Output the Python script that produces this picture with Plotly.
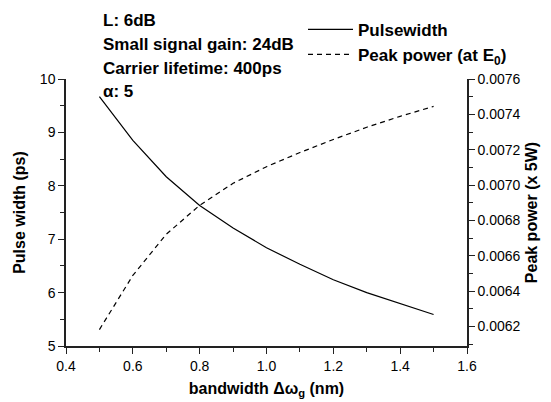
import plotly.graph_objects as go

bandwidth = [0.5, 0.6, 0.7, 0.8, 0.9, 1.0, 1.1, 1.2, 1.3, 1.4, 1.5]
pulse_width = [9.67, 8.85, 8.17, 7.63, 7.21, 6.84, 6.53, 6.24, 6.00, 5.79, 5.59]
peak_power = [0.006183, 0.006489, 0.006722, 0.006886, 0.007010, 0.007104,
              0.007184, 0.007258, 0.007327, 0.007389, 0.007445]
right_ticks = [0.0062, 0.0064, 0.0066, 0.0068, 0.0070, 0.0072, 0.0074, 0.0076]
notes = ["L: 6dB", "Small signal gain: 24dB", "Carrier lifetime: 400ps", "α: 5"]

FONT = "Arial, Liberation Sans, sans-serif"
AX = "#222"

fig = go.Figure()
fig.add_trace(go.Scatter(x=bandwidth, y=pulse_width, mode="lines", name="<b>Pulsewidth</b>",
                         line=dict(color="black", width=1.2)))
fig.add_trace(go.Scatter(x=bandwidth, y=peak_power, mode="lines", yaxis="y2",
                         name="<b>Peak power (at E<sub>0</sub>)</b>",
                         line=dict(color="black", width=1.2, dash="5px,4px")))

W, H = 551, 402
L, R, T, B = 66, 467, 76, 346

tick_common = dict(showline=True, linecolor=AX, linewidth=1.5,
                   ticks="outside", ticklen=6, tickcolor=AX, tickwidth=1.2,
                   showgrid=False, zeroline=False, tickfont=dict(size=14),
                   automargin=False)

fig.update_layout(
    width=W, height=H,
    margin=dict(l=L, r=W - R, t=T, b=H - B),
    paper_bgcolor="white", plot_bgcolor="white",
    font=dict(family=FONT, size=14, color="black"),
    showlegend=True,
    legend=dict(x=(303 - L) / (R - L), y=(B - 8) / (B - T), xanchor="left", yanchor="top",
                bgcolor="rgba(0,0,0,0)", font=dict(size=17, family=FONT),
                tracegroupgap=0, itemwidth=45),
    xaxis=dict(range=[0.4, 1.6], dtick=0.2, tick0=0.4, tickformat=".1f",
               minor=dict(dtick=0.1, ticks="outside", ticklen=4, tickcolor=AX, tickwidth=1.2),
               title=dict(text="<b>bandwidth Δω<sub>g</sub> (nm)</b>", font=dict(size=16), standoff=10),
               **tick_common),
    yaxis=dict(range=[5, 10], dtick=1, tick0=5,
               minor=dict(dtick=0.5, ticks="outside", ticklen=4, tickcolor=AX, tickwidth=1.2),
               title=dict(text="<b>Pulse width (ps)</b>", font=dict(size=16), standoff=10),
               **tick_common),
    yaxis2=dict(range=[0.00609, 0.0076], overlaying="y", side="right", anchor="x",
                tickvals=right_ticks, tickformat=".4f",
                minor=dict(dtick=0.0001, tick0=0.0061, ticks="outside", ticklen=4, tickcolor=AX, tickwidth=1.2),
                title=dict(text="<b>Peak power (x 5W)</b>", font=dict(size=16), standoff=6),
                **tick_common),
)

line_y = [17, 41, 65, 89]
for txt, yy in zip(notes, line_y):
    fig.add_annotation(text="<b>" + txt + "</b>", xref="paper", yref="paper",
                       x=(101 - L) / (R - L), y=(B - yy) / (B - T),
                       xanchor="left", yanchor="middle", showarrow=False,
                       font=dict(size=17, family=FONT, color="black"))

fig.write_html("out.html")
